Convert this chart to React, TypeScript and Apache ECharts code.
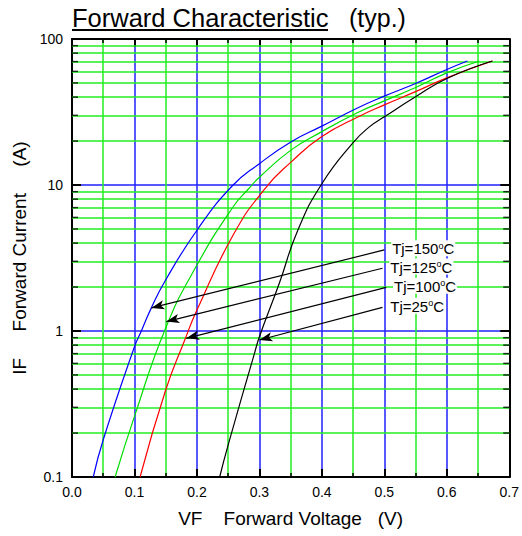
import { useEffect, useRef } from 'react';
import * as echarts from 'echarts';

const FONT = '"Liberation Sans", Arial, Helvetica, sans-serif';

// Forward characteristic curves: [VF (V), IF (A)]
const curve150 = [
  [0.034, 0.1], [0.05, 0.18], [0.1, 0.78], [0.111, 1.0], [0.127, 1.44], [0.149, 2.2],
  [0.2, 4.9], [0.256, 9.8], [0.3, 14.0], [0.351, 19.8], [0.4, 25.3], [0.457, 33.7],
  [0.5, 40.6], [0.55, 49.6], [0.601, 62.1], [0.633, 70.7],
];
const curve125 = [
  [0.069, 0.1], [0.1, 0.26], [0.15, 1.05], [0.2, 2.83], [0.258, 7.1], [0.282, 9.35],
  [0.3, 11.3], [0.351, 17.4], [0.4, 23.2], [0.455, 31.0], [0.5, 37.7], [0.55, 46.5],
  [0.601, 58.8], [0.652, 70.7],
];
const curve100 = [
  [0.109, 0.1], [0.15, 0.394], [0.1805, 0.868], [0.2, 1.39], [0.258, 4.54], [0.308, 9.35],
  [0.351, 14.4], [0.4, 21.5], [0.46, 29.6], [0.5, 35.4], [0.55, 43.6], [0.601, 54.4],
  [0.673, 70.7],
];
const curve25 = [
  [0.2364, 0.1], [0.25, 0.166], [0.292, 0.7], [0.3, 0.914], [0.332, 2.13], [0.3615, 4.9],
  [0.4, 10.2], [0.45, 19.5], [0.476, 25.0], [0.5, 29.3], [0.55, 40.2], [0.601, 53.9],
  [0.673, 70.7],
];

const curves = [curve150, curve125, curve100, curve25];
const temps = ['150', '125', '100', '25'];
const curveColors = ['#0000ff', '#00dd00', '#ff0000', '#000000'];

// annotation arrows: label end -> curve point
const arrowFrom = [[0.5, 3.59], [0.497, 2.69], [0.503, 1.99], [0.497, 1.45]];
const arrowTo = [[0.127, 1.44], [0.151, 1.16], [0.183, 0.891], [0.3, 0.868]];

// minor log grid values
const minorValues = [
  0.2, 0.3, 0.4, 0.5, 0.6, 0.7, 0.8, 0.9,
  2, 3, 4, 5, 6, 7, 8, 9,
  20, 30, 40, 50, 60, 70, 80, 90,
];

const X_MIN = 0;
const X_MAX = 0.7;
const Y_MIN = 0.1;
const Y_MAX = 100;

const BLUE_GRID = '#2020ff';
const GREEN_GRID = '#22ee22';
const NB = '\u00a0';

export default function App() {
  const ref = useRef<HTMLDivElement>(null);

  useEffect(() => {
    document.body.style.margin = '0';
    if (!ref.current) return;
    const chart = echarts.init(ref.current, undefined, { renderer: 'svg' });

    const axisLine = { show: true, onZero: false, lineStyle: { color: '#000', width: 2 } };
    const xTick = { show: true, inside: true, length: 8, lineStyle: { color: '#000', width: 2 } };
    const xMinorTick = { show: true, splitNumber: 2, length: 4, lineStyle: { color: '#000', width: 1.5 } };

    const curveSeries = curves.map((c, i) => ({
      type: 'line',
      name: 'Tj=' + temps[i] + '°C',
      data: c,
      showSymbol: false,
      smooth: 0.5,
      silent: true,
      z: 2,
      lineStyle: { color: curveColors[i], width: 1.2 },
      itemStyle: { color: curveColors[i] },
      markLine: {
        silent: true,
        z: 6,
        symbol: ['none', 'arrow'],
        lineStyle: { color: '#000', width: 1.2, type: 'solid' },
        label: {
          show: true,
          position: 'start',
          distance: 7,
          formatter: 'Tj=' + temps[i] + '{s|o}C',
          color: '#000',
          fontSize: 15,
          fontFamily: FONT,
          backgroundColor: '#fff',
          padding: [1, 1, 0, 1],
          rich: {
            s: { fontSize: 9, fontFamily: FONT, color: '#000', verticalAlign: 'top' },
          },
        },
        data: [[
          { coord: arrowFrom[i], symbol: 'none' },
          { coord: arrowTo[i], symbol: 'arrow', symbolSize: [7, 13] },
        ]],
      },
    }));

    chart.setOption({
      animation: false,
      grid: { left: 72, right: 12, top: 39, bottom: 59 },
      xAxis: [
        {
          type: 'value', min: X_MIN, max: X_MAX, interval: 0.1, position: 'bottom',
          axisLine, axisTick: xTick, minorTick: xMinorTick,
          splitLine: { show: true, lineStyle: { color: BLUE_GRID, width: 1.5 } },
          minorSplitLine: { show: true, lineStyle: { color: GREEN_GRID, width: 1.5 } },
          axisLabel: {
            color: '#000', fontSize: 14, fontFamily: FONT, margin: 8,
            formatter: (v: number) => v.toFixed(1),
          },
          name: 'VF' + NB.repeat(4) + 'Forward Voltage' + NB.repeat(3) + '(V)',
          nameLocation: 'middle', nameGap: 32,
          nameTextStyle: { color: '#000', fontSize: 19, fontFamily: FONT },
        },
        {
          type: 'value', min: X_MIN, max: X_MAX, interval: 0.1, position: 'top',
          axisLine, axisTick: xTick, minorTick: xMinorTick,
          splitLine: { show: false }, axisLabel: { show: false },
        },
      ],
      yAxis: [
        {
          type: 'log', logBase: 10, min: Y_MIN, max: Y_MAX, position: 'left',
          axisLine, axisTick: { show: true, inside: true, length: 9, lineStyle: { color: '#000', width: 2 } },
          splitLine: { show: true, lineStyle: { color: BLUE_GRID, width: 1.5 } },
          axisLabel: { color: '#000', fontSize: 14, fontFamily: FONT, margin: 9 },
          name: 'IF' + NB.repeat(5) + 'Forward Current' + NB.repeat(5) + '(A)',
          nameLocation: 'middle', nameGap: 43,
          nameTextStyle: { color: '#000', fontSize: 19, fontFamily: FONT },
        },
        {
          type: 'log', logBase: 10, min: Y_MIN, max: Y_MAX, position: 'right',
          axisLine, axisTick: { show: true, inside: true, length: 9, lineStyle: { color: '#000', width: 2 } },
          splitLine: { show: false }, axisLabel: { show: false },
        },
      ],
      graphic: [
        {
          type: 'text', x: 72, y: 18,
          style: { text: 'Forward Characteristic', fill: '#000', font: '25.5px ' + FONT, align: 'left', verticalAlign: 'middle' },
        },
        {
          type: 'text', x: 349, y: 18,
          style: { text: '(typ.)', fill: '#000', font: '25px ' + FONT, align: 'left', verticalAlign: 'middle' },
        },
        {
          type: 'line', shape: { x1: 72, y1: 30, x2: 328, y2: 30 },
          style: { stroke: '#000', lineWidth: 2 },
        },
      ],
      series: [
        {
          type: 'scatter',
          data: minorValues.map((v) => [X_MIN, v]),
          symbol: 'rect', symbolSize: [6, 1.5], symbolOffset: [3, 0],
          itemStyle: { color: '#000' }, silent: true, clip: false, z: 3,
          markLine: {
            silent: true, z: 1, symbol: 'none',
            label: { show: false },
            lineStyle: { color: GREEN_GRID, width: 1.5, type: 'solid' },
            data: minorValues.map((v) => ({ yAxis: v })),
          },
        },
        {
          type: 'scatter',
          data: minorValues.map((v) => [X_MAX, v]),
          symbol: 'rect', symbolSize: [6, 1.5], symbolOffset: [-3, 0],
          itemStyle: { color: '#000' }, silent: true, clip: false, z: 3,
        },
        ...curveSeries,
      ],
    });

    return () => chart.dispose();
  }, []);

  return <div ref={ref} style={{ width: 522, height: 536 }} />;
}
